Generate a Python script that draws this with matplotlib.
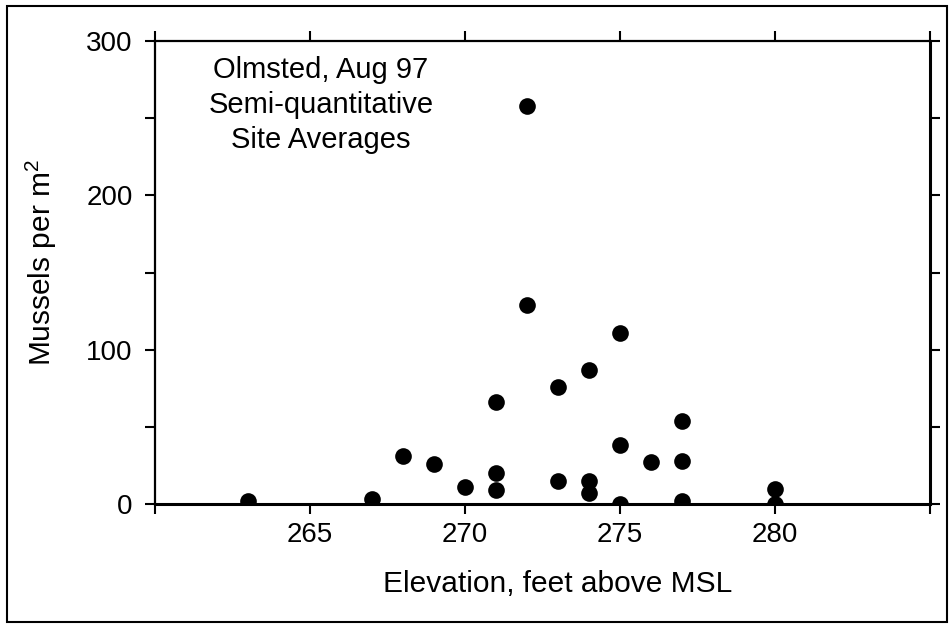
"""
Olmsted mussel survey, Aug 97: semi-quantitative site averages
plotted against elevation.
"""

import matplotlib
import numpy as np

matplotlib.use('Agg')
import matplotlib.pyplot as plt
from matplotlib.patches import Rectangle

# Site averages
elevation_ft = [263, 267, 268, 269, 270, 271, 271, 271, 272, 272, 273, 273,
                274, 274, 274, 275, 275, 275, 276, 277, 277, 277, 280, 280]
mussels_per_m2 = [2, 3, 31, 26, 11, 66, 20, 9, 258, 129, 76, 15,
                  87, 15, 7, 111, 38, 0, 27, 54, 28, 2, 10, 0]

x_ticks = [260, 265, 270, 275, 280, 285]
x_tick_labels = ['', '265', '270', '275', '280', '']
y_ticks = [0, 100, 200, 300]
y_minor_ticks = [50, 150, 250]
note_lines = ['Olmsted, Aug 97', 'Semi-quantitative', 'Site Averages']

plt.rcParams['font.family'] = ['Liberation Sans', 'DejaVu Sans']
plt.rcParams['mathtext.fontset'] = 'custom'
plt.rcParams['mathtext.rm'] = 'Liberation Sans'
plt.rcParams['mathtext.it'] = 'Liberation Sans:italic'

W, H = 952, 624
fig = plt.figure(figsize=(W / 100, H / 100), dpi=100)
ax = fig.add_axes([155 / W, 1 - 504 / H, 775 / W, 463 / H])

ax.plot(elevation_ft, mussels_per_m2, 'o', color='black', markersize=12,
        markeredgewidth=0)

ax.set_xlim(260, 285)
ax.set_ylim(0, 300)
ax.set_xticks(x_ticks)
ax.set_xticklabels(x_tick_labels)
ax.set_yticks(y_ticks)
ax.set_yticks(y_minor_ticks, minor=True)

# ticks point outward on all four sides
ax.tick_params(which='both', direction='out', top=True, right=True,
               length=7, width=1.5, color='black')
ax.tick_params(axis='x', labelsize=20, pad=6)
ax.tick_params(axis='y', labelsize=20, pad=9)

ax.spines['left'].set_linewidth(1.6)
ax.spines['top'].set_linewidth(1.6)
ax.spines['bottom'].set_linewidth(2.2)
ax.spines['right'].set_linewidth(2.2)

# axis titles
fig.text(558 / W, 1 - 592 / H, 'Elevation, feet above MSL', fontsize=21.5,
         ha='center', va='baseline')
fig.text(41 / W, 1 - 262 / H, 'Mussels per m$^{\\mathrm{2}}$', fontsize=21.5,
         rotation=90, ha='center', va='center')

# note in the upper left corner
ax.text((321 - 155) / 775, (504 - 105) / 463, '\n'.join(note_lines),
        transform=ax.transAxes, fontsize=21, ha='center', va='center',
        linespacing=1.3)

# frame round the whole figure
fig.add_artist(Rectangle((7 / W, 1 - 622 / H), 940 / W, 616 / H,
                         transform=fig.transFigure, fill=False,
                         edgecolor='black', linewidth=1.5))

plt.savefig('out.png', dpi=100)
